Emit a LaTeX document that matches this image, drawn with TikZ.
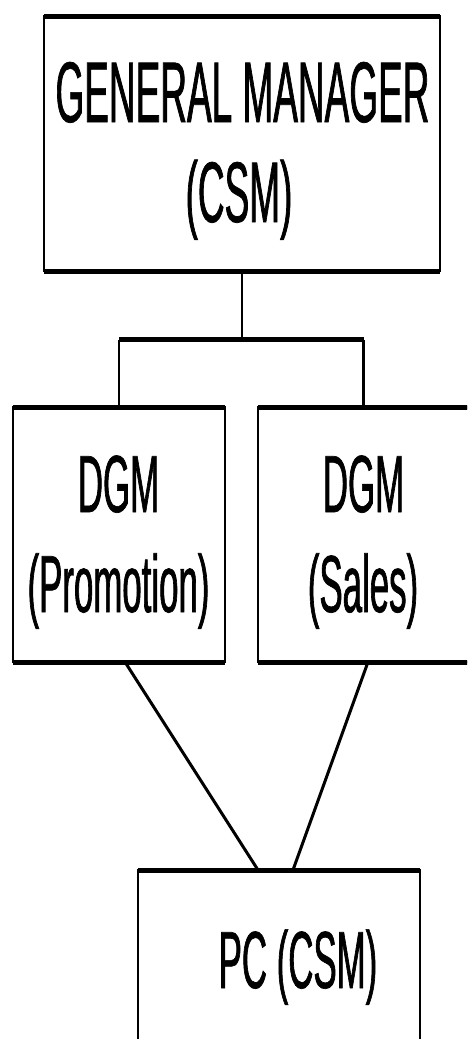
\documentclass[tikz,border=0pt]{standalone}
\usepackage{fontspec}
\newfontfamily\condfont{Liberation Sans}[FakeStretch=0.43,FakeBold=0.8]
\begin{document}
\begin{tikzpicture}[x=1pt,y=-1pt,
  box/.style={draw=black,line width=2.5pt,fill=white,inner sep=0pt,outer sep=0pt},
  edgeline/.style={line width=5pt},
  link/.style={line width=2.5pt},
  bigtext/.style={font=\condfont\fontsize{86}{100}\selectfont,anchor=base,inner sep=0pt},
  midtext/.style={font=\condfont\fontsize{81}{100}\selectfont,anchor=base,inner sep=0pt}]
  \useasboundingbox (0,0) rectangle (467,1039);
  \clip (0,0) rectangle (467,1039);

  % boxes
  \node[box,minimum width=396pt,minimum height=254.5pt] (gm)   at (242,143.75) {};
  \node[box,minimum width=212pt,minimum height=254.5pt] (dgmp) at (119,534.75) {};
  \node[box,minimum width=211pt,minimum height=254.5pt] (dgms) at (363.5,534.75) {};
  \node[box,minimum width=282pt,minimum height=254.5pt] (pc)   at (279,997.25) {};

  % heavier top and bottom rules of each box
  \foreach \b in {gm,dgmp,dgms,pc}{
    \draw[edgeline] (\b.north west) -- (\b.north east);
    \draw[edgeline] (\b.south west) -- (\b.south east);
  }

  % labels
  \node[bigtext] (gm1) at (242.5,122) {GENERAL MANAGER};
  \node[bigtext] (gm2) at (239,222) {(CSM)};
  \node[midtext] (p1) at (118.5,512) {DGM};
  \node[midtext] (p2) at (118.5,612) {(Promotion)};
  \node[midtext] (s1) at (363.5,512) {DGM};
  \node[midtext] (s2) at (363,612) {(Sales)};
  \node[midtext] (pc1) at (298,988) {PC (CSM)};

  % connectors
  \coordinate (bus) at (242,339.5);
  \draw[link] (gm.south) -- (bus);
  \draw[link] (dgmp.north) -- (dgmp.north |- bus);
  \draw[link] (dgms.north) -- (dgms.north |- bus);
  \draw[edgeline] (dgmp.north |- bus) -- (dgms.north |- bus);
  \draw[link,line width=3pt] ([xshift=6pt]dgmp.south) -- ([xshift=-21pt]pc.north);
  \draw[link,line width=3pt] ([xshift=4.5pt]dgms.south) -- ([xshift=14pt]pc.north);
\end{tikzpicture}
\end{document}
